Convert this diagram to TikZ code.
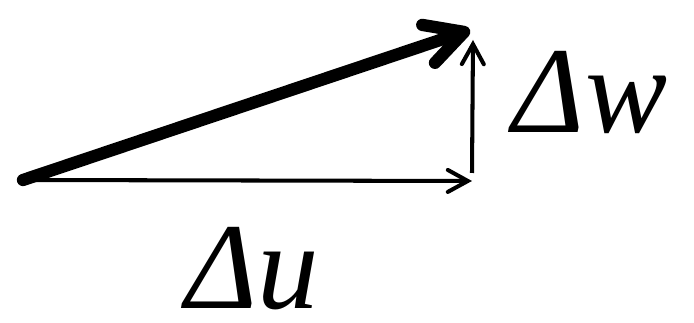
\documentclass[tikz,border=0pt]{standalone}
\usepackage{fontspec}
\setmainfont{Liberation Serif}[ItalicFont={Liberation Serif Italic}]
\usetikzlibrary{arrows.meta}

\begin{document}
\begin{tikzpicture}[
    x=0.02cm, y=-0.02cm,
    thin vec/.style={line width=2.3pt, -{Straight Barb[length=0.4cm, width=0.44cm, line cap=round]}},
    thick vec/.style={line width=7pt, line cap=round, -{Straight Barb[length=0.75cm, width=0.8cm, round]}},
    lbl/.style={font=\fontsize{70}{76}\selectfont\itshape, inner sep=0pt, anchor=base}
]
\useasboundingbox (0,0) rectangle (694,323);

\coordinate (o) at (23,180);
\coordinate (a) at (472,181);
\coordinate (b) at (470,30);
\coordinate (c) at (473,40);

\draw[thin vec] (o) -- (a);
\draw[thin vec] (a |- 0,173) -- (c);
\draw[thick vec] (o) -- (b);

\node[lbl] (dw) at (590,133) {Δw};
\node[lbl] (du) at (252,309) {Δu};

\end{tikzpicture}
\end{document}
